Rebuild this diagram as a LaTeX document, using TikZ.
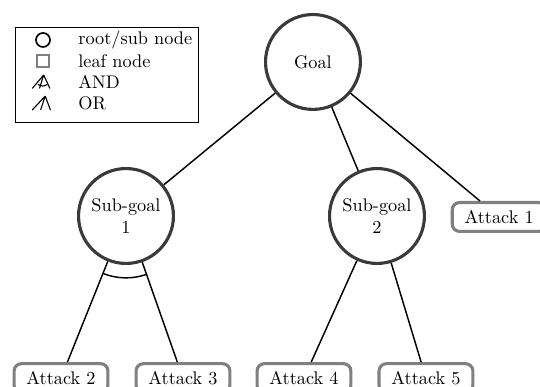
\documentclass[tikz,border=0pt]{standalone}
\usetikzlibrary{positioning,calc}
\definecolor{ringgray}{HTML}{3A3A3A}
\definecolor{boxgray}{HTML}{808080}

\begin{document}
\begin{tikzpicture}[
    goalnode/.style={circle, draw=ringgray, line width=1.7pt, minimum size=1.825cm, align=center, inner sep=0pt},
    attack/.style={rectangle, rounded corners=4pt, draw=boxgray, line width=1.7pt, minimum width=1.805cm, minimum height=0.555cm},
    edge/.style={draw=black, line width=0.8pt},
    legendtext/.style={anchor=west, inner sep=0pt}
]
\useasboundingbox (0,0) rectangle (10.385,7.442);

% Legend
\draw[line width=0.5pt] (0.288,5.096) rectangle (3.808,6.923);
\node[circle, draw=black, line width=0.9pt, minimum size=0.27cm, inner sep=0pt] (legcirc) at (0.827,6.673) {};
\node[rectangle, draw=boxgray, line width=0.9pt, minimum size=0.22cm, inner sep=0pt] (legsq) at (0.827,6.269) {};
\node[legendtext] (legroot) at (1.5,6.673) {root/sub node};
\node[legendtext] (legleaf) at (1.5,6.269) {leaf node};
\node[legendtext] (legand) at (1.5,5.865) {AND};
\node[legendtext] (legor) at (1.5,5.462) {OR};

% AND / OR symbols
\coordinate (andtop) at (0.84,6.0);
\draw[line width=0.6pt] (andtop) -- ++(-0.22,-0.26) (andtop) -- ++(-0.08,-0.26) (andtop) -- ++(0.12,-0.26);
\draw[line width=0.6pt] (0.73,5.82) arc[start angle=-130, end angle=-50, radius=0.14];
\coordinate (ortop) at (0.87,5.595);
\draw[line width=0.6pt] (ortop) -- ++(-0.25,-0.27) (ortop) -- ++(-0.09,-0.27) (ortop) -- ++(0.1,-0.27);

% Tree
\node[goalnode] (goal) at (6.019,6.250) {Goal};
\node[goalnode] (sub1) at (2.423,3.288) {Sub-goal\\1};
\node[goalnode] (sub2) at (7.250,3.288) {Sub-goal\\2};
\node[attack] (att1) at (9.6,3.269) {Attack 1};
\node[attack] (att2) at (1.173,0.17) {Attack 2};
\node[attack] (att3) at (3.519,0.17) {Attack 3};
\node[attack] (att4) at (5.846,0.17) {Attack 4};
\node[attack] (att5) at (8.192,0.17) {Attack 5};

% Connections
\draw[edge] (goal) -- (sub1);
\draw[edge] (goal) -- (sub2);
\draw[edge] (goal) -- (att1);
\draw[edge] (sub1) -- (att2);
\draw[edge] (sub1) -- (att3);
\draw[edge] (sub2) -- (att4);
\draw[edge] (sub2) -- (att5);

% AND arc
\draw[edge] (sub1.center) ++(-112:1.19) arc[start angle=-112, end angle=-70, radius=1.19];

\end{tikzpicture}
\end{document}
